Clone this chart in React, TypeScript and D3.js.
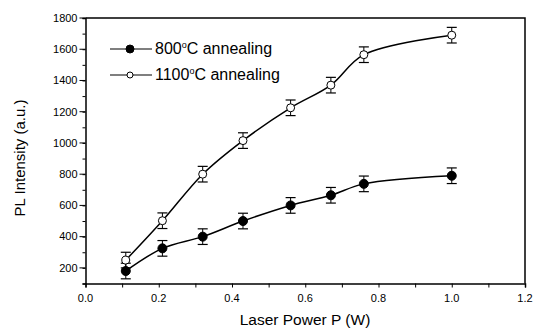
import React, { useEffect, useRef } from 'react';
import * as d3 from 'd3';

const power = [0.11, 0.21, 0.32, 0.43, 0.56, 0.67, 0.76, 1.0];
const pl800 = [180, 325, 400, 500, 600, 665, 738, 790];
const pl1100 = [250, 502, 800, 1015, 1225, 1370, 1565, 1690];
const err800 = [50, 50, 50, 50, 50, 50, 50, 50];
const err1100 = [50, 50, 50, 50, 50, 50, 50, 50];
const xTicks = [0, 0.2, 0.4, 0.6, 0.8, 1.0, 1.2];
const yTicks = [200, 400, 600, 800, 1000, 1200, 1400, 1600, 1800];

const FONT = 'Liberation Sans, Arial, Helvetica, sans-serif';

export default function App() {
  const ref = useRef<SVGSVGElement>(null);

  useEffect(() => {
    const w = 533, h = 329;
    const svg = d3.select(ref.current);
    svg.selectAll('*').remove();

    const x = d3.scaleLinear().domain([0, 1.2]).range([85.5, 525]);
    const y = d3.scaleLinear().domain([100, 1800]).range([283.5, 18]);

    // frame
    svg.append('path')
      .attr('d', `M${x(0)},${y(1800)}H${x(1.2)}V${y(100)}`)
      .attr('fill', 'none').attr('stroke', '#000').attr('stroke-width', 1.5);

    // axes
    const xAxis = svg.append('g').attr('transform', `translate(0,${y(100)})`)
      .call(d3.axisBottom(x).tickValues(d3.range(0, 1.21, 0.1)).tickSize(4).tickFormat(() => ''));
    xAxis.selectAll('text').remove();
    svg.append('g').attr('transform', `translate(0,${y(100)})`)
      .selectAll('text').data(xTicks).enter().append('text')
      .attr('x', d => x(d)).attr('y', 18)
      .attr('text-anchor', 'middle')
      .style('font-family', FONT).style('font-size', '11px')
      .text(d => d.toFixed(1));

    const yAxis = svg.append('g').attr('transform', `translate(${x(0)},0)`)
      .call(d3.axisLeft(y).tickValues(d3.range(100, 1801, 100)).tickSize(3).tickFormat(() => ''));
    yAxis.selectAll('text').remove();
    svg.append('g').attr('transform', `translate(${x(0)},0)`)
      .selectAll('line.major').data(yTicks).enter().append('line')
      .attr('x1', -6).attr('x2', 0).attr('y1', d => y(d)).attr('y2', d => y(d))
      .attr('stroke', '#000');
    svg.append('g').attr('transform', `translate(${x(0)},0)`)
      .selectAll('text').data(yTicks).enter().append('text')
      .attr('x', -8).attr('y', d => y(d)).attr('dy', '0.35em')
      .attr('text-anchor', 'end')
      .style('font-family', FONT).style('font-size', '11px')
      .text(d => d);

    [xAxis, yAxis].forEach(a => {
      a.select('.domain').attr('stroke-width', 1.5);
    });

    // titles
    svg.append('text')
      .attr('x', 305).attr('y', 325).attr('text-anchor', 'middle')
      .style('font-family', FONT).style('font-size', '15.5px')
      .text('Laser Power P (W)');
    svg.append('text')
      .attr('transform', 'translate(25,158) rotate(-90)').attr('text-anchor', 'middle')
      .style('font-family', FONT).style('font-size', '15px')
      .text('PL Intensity (a.u.)');

    const line = d3.line<number>()
      .x((d, i) => x(power[i]))
      .y(d => y(d))
      .curve(d3.curveCatmullRom.alpha(0.5));

    const series = [
      { vals: pl800, err: err800, fill: '#000' },
      { vals: pl1100, err: err1100, fill: '#fff' },
    ];

    series.forEach(s => {
      svg.append('path').attr('d', line(s.vals))
        .attr('fill', 'none').attr('stroke', '#000').attr('stroke-width', 1.5);
      const g = svg.append('g');
      const eb = g.selectAll('g').data(s.vals).enter().append('g');
      eb.append('line')
        .attr('x1', (d, i) => x(power[i])).attr('x2', (d, i) => x(power[i]))
        .attr('y1', (d, i) => y(d - s.err[i])).attr('y2', (d, i) => y(d + s.err[i]))
        .attr('stroke', '#000');
      [-1, 1].forEach(sign => {
        eb.append('line')
          .attr('x1', (d, i) => x(power[i]) - 5).attr('x2', (d, i) => x(power[i]) + 5)
          .attr('y1', (d, i) => y(d + sign * s.err[i])).attr('y2', (d, i) => y(d + sign * s.err[i]))
          .attr('stroke', '#000').attr('stroke-width', 1.2);
      });
      eb.append('circle')
        .attr('cx', (d, i) => x(power[i])).attr('cy', d => y(d))
        .attr('r', s.fill === '#000' ? 4.5 : 4)
        .attr('fill', s.fill).attr('stroke', '#000').attr('stroke-width', 1);
    });

    // legend
    const legend = [
      { label: '800', fill: '#000', yy: 49 },
      { label: '1100', fill: '#fff', yy: 75 },
    ];
    legend.forEach(l => {
      svg.append('line').attr('x1', 110).attr('x2', 152).attr('y1', l.yy).attr('y2', l.yy)
        .attr('stroke', '#000').attr('stroke-width', 1.2);
      svg.append('circle').attr('cx', 130).attr('cy', l.yy).attr('r', l.fill === '#000' ? 4 : 3)
        .attr('fill', l.fill).attr('stroke', '#000');
      const t = svg.append('text').attr('x', 155).attr('y', l.yy + 5)
        .style('font-family', FONT).style('font-size', '16px');
      t.append('tspan').text(l.label);
      t.append('tspan').attr('dy', -6).style('font-size', '9px').text('o');
      t.append('tspan').attr('dy', 6).text('C annealing');
    });

    svg.attr('width', w).attr('height', h);
  }, []);

  return (
    <svg ref={ref} width={533} height={329}
      style={{ position: 'absolute', left: 0, top: 0, background: '#fff' }} />
  );
}
